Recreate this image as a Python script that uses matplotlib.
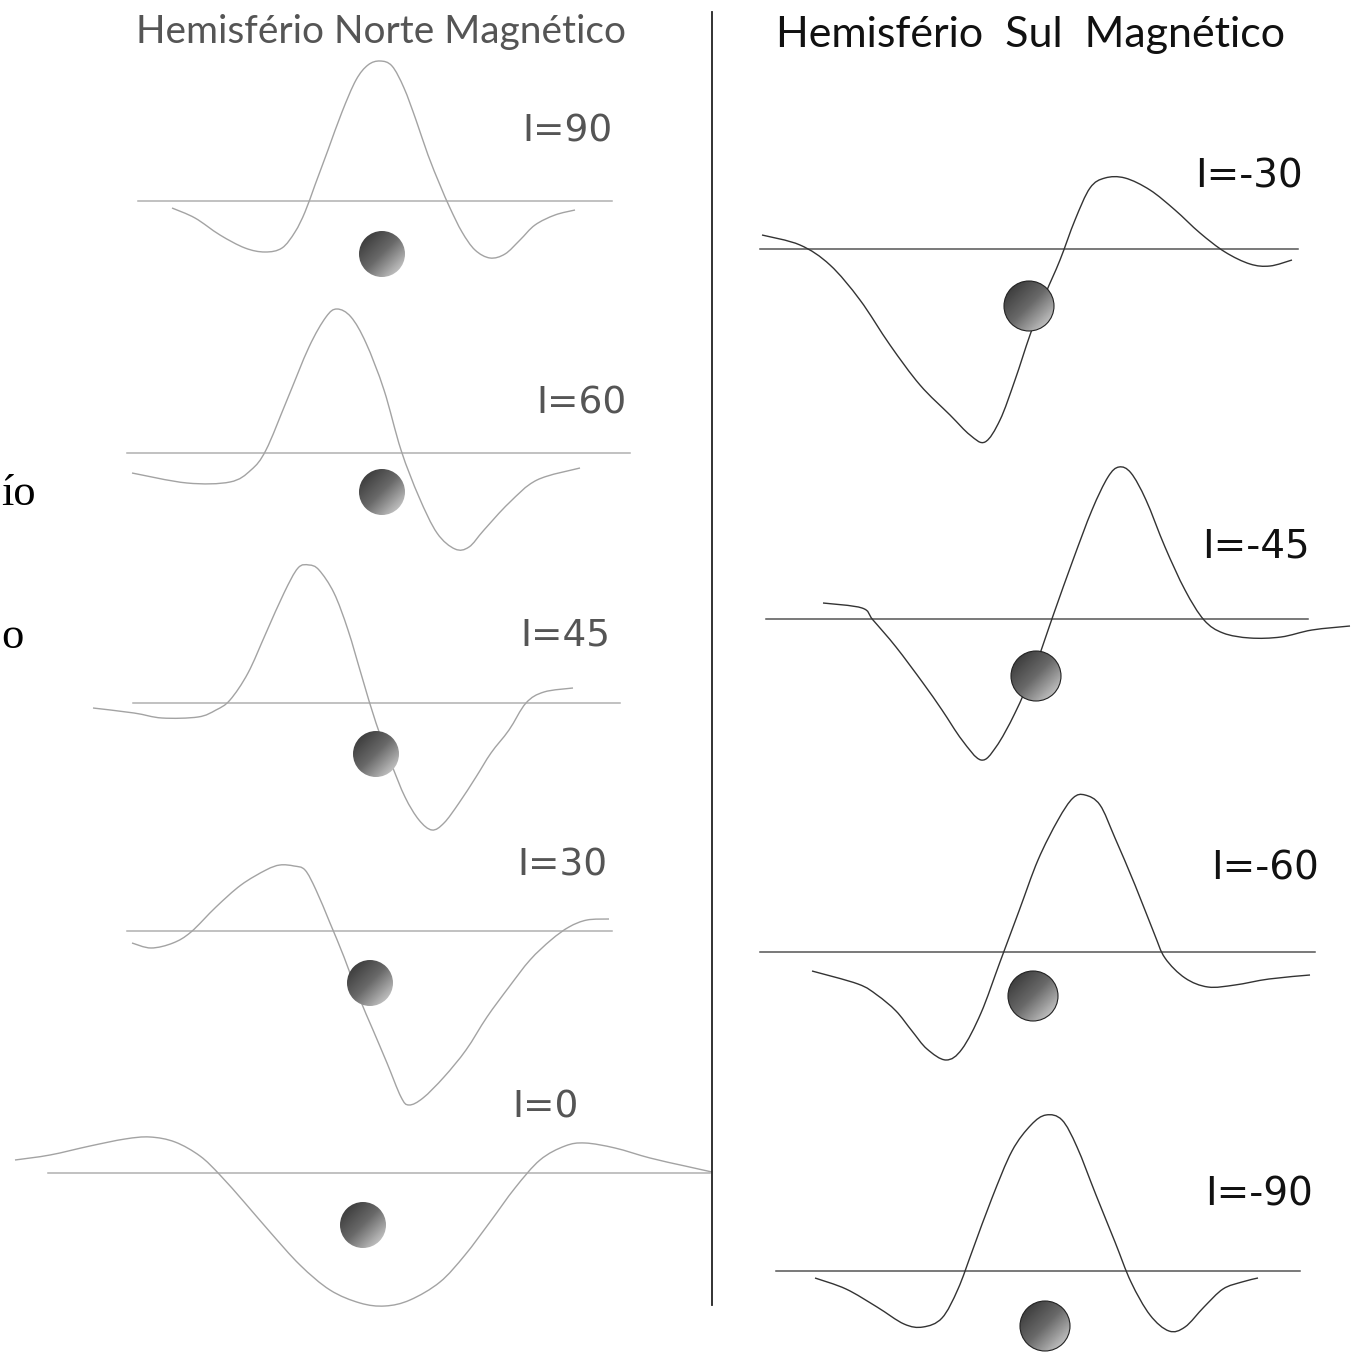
import matplotlib
matplotlib.use("Agg")
import matplotlib.pyplot as plt
import numpy as np
from matplotlib.patches import Circle, PathPatch
from matplotlib.path import Path
from matplotlib.colors import LinearSegmentedColormap

# Perfis de anomalia magnética (coordenadas em pixels do desenho)
# Hemisfério Norte
n90 = [(172, 208), (195, 218), (220, 235), (245, 248), (265, 252), (282, 248), (295, 232),
       (305, 212), (315, 185), (328, 150), (342, 112), (356, 80), (368, 65), (380, 61),
       (392, 66), (404, 88), (416, 120), (428, 155), (440, 185), (450, 208), (462, 232),
       (475, 250), (490, 258), (505, 254), (520, 240), (535, 225), (555, 215), (575, 210)]
n60 = [(132, 473), (187, 483), (230, 482), (251, 470), (266, 450), (287, 400), (309, 347),
       (326, 317), (337, 309), (351, 317), (366, 343), (384, 390), (401, 450), (419, 497),
       (437, 533), (455, 549), (469, 547), (484, 530), (509, 503), (537, 480), (580, 468)]
n45 = [(93, 708), (134, 713), (162, 718), (198, 717), (216, 710), (230, 700), (248, 673),
       (266, 633), (284, 593), (298, 568), (309, 565), (319, 570), (334, 593), (348, 630),
       (362, 677), (376, 723), (391, 763), (405, 797), (419, 820), (432, 830), (444, 823),
       (459, 803), (476, 777), (491, 753), (509, 730), (526, 703), (544, 692), (573, 688)]
n30 = [(132, 943), (151, 948), (173, 943), (191, 932), (216, 907), (241, 885), (266, 870),
       (280, 865), (294, 866), (305, 870), (316, 890), (330, 923), (344, 957), (359, 997),
       (373, 1030), (387, 1063), (401, 1097), (409, 1105), (423, 1098), (444, 1077),
       (466, 1050), (487, 1017), (509, 987), (530, 960), (551, 940), (569, 927), (587, 920),
       (609, 919)]
n0 = [(15, 1160), (50, 1155), (90, 1146), (125, 1139), (150, 1137), (175, 1142), (200, 1156),
      (220, 1175), (245, 1203), (270, 1232), (300, 1265), (330, 1290), (360, 1303), (385, 1306),
      (410, 1300), (440, 1282), (465, 1255), (490, 1222), (515, 1188), (540, 1160), (565, 1146),
      (585, 1143), (615, 1148), (650, 1158), (685, 1166), (712, 1172)]

# Hemisfério Sul
s30 = [(762, 235), (800, 245), (830, 265), (860, 300), (890, 345), (920, 385), (950, 415),
       (970, 435), (985, 442), (1000, 420), (1015, 380), (1030, 335), (1045, 295), (1060, 260),
       (1075, 220), (1090, 188), (1105, 178), (1125, 178), (1150, 190), (1175, 210),
       (1200, 233), (1225, 252), (1250, 264), (1270, 266), (1292, 260)]
s45 = [(823, 603), (862, 608), (873, 620), (896, 647), (923, 683), (942, 710), (962, 740),
       (981, 760), (996, 747), (1015, 713), (1035, 667), (1054, 613), (1073, 560), (1092, 510),
       (1108, 477), (1119, 467), (1131, 473), (1146, 500), (1165, 547), (1185, 590),
       (1204, 620), (1223, 633), (1250, 638), (1281, 637), (1312, 630), (1350, 626)]
s60 = [(812, 971), (858, 984), (877, 995), (896, 1011), (912, 1031), (927, 1049), (946, 1060),
       (962, 1049), (981, 1013), (1000, 962), (1019, 911), (1038, 860), (1058, 820),
       (1073, 798), (1085, 795), (1100, 805), (1115, 838), (1135, 885), (1154, 933),
       (1165, 958), (1185, 978), (1208, 987), (1235, 985), (1269, 979), (1310, 975)]
s90 = [(815, 1278), (846, 1289), (877, 1307), (904, 1324), (923, 1327), (942, 1318),
       (958, 1289), (973, 1249), (992, 1198), (1012, 1151), (1031, 1125), (1046, 1115),
       (1062, 1120), (1077, 1147), (1096, 1195), (1115, 1242), (1131, 1282), (1150, 1315),
       (1169, 1331), (1185, 1327), (1204, 1307), (1223, 1289), (1242, 1282), (1258, 1278)]

north_profiles = [n90, n60, n45, n30, n0]
south_profiles = [s30, s45, s60, s90]

# linhas de referência: (x inicial, x final, y)
north_base = [(138, 612, 201), (127, 630, 453), (133, 620, 703), (127, 612, 931), (48, 710, 1173)]
south_base = [(760, 1298, 249), (766, 1308, 619), (760, 1315, 952), (776, 1300, 1271)]

# corpos esféricos: (x, y, raio)
north_spheres = [(382, 254, 23), (382, 492, 23), (376, 754, 23), (370, 983, 23), (363, 1225, 23)]
south_spheres = [(1029, 306, 25), (1036, 676, 25), (1033, 996, 25), (1045, 1326, 25)]

north_labels = ["I=90", "I=60", "I=45", "I=30", "I=0"]
north_label_pos = [(522, 142), (536, 414), (520, 646), (517, 876), (512, 1118)]
south_labels = ["I=-30", "I=-45", "I=-60", "I=-90"]
south_label_pos = [(1195, 188), (1202, 557), (1211, 880), (1205, 1205)]

W = H = 1353
fig = plt.figure(figsize=(W / 100, H / 100), dpi=100)
ax = fig.add_axes([0, 0, 1, 1])
ax.set_xlim(0, W)
ax.set_ylim(H, 0)
ax.axis("off")

sphere_cmap = LinearSegmentedColormap.from_list("esfera", ["#2e2e2e", "#6a6a6a", "#dedede"])
grad = np.add.outer(np.linspace(0, 1, 64), np.linspace(0, 1, 64)) / 2


def draw_sphere(cx, cy, r, edge):
    im = ax.imshow(grad, cmap=sphere_cmap, extent=(cx - r, cx + r, cy + r, cy - r),
                   origin="upper", interpolation="bilinear", zorder=3)
    circ = Circle((cx, cy), r, transform=ax.transData, facecolor="none",
                  edgecolor=edge if edge else "none", lw=0.8, zorder=4)
    ax.add_patch(circ)
    im.set_clip_path(circ)


def draw_profile(pts, color):
    # curva suave (Catmull-Rom em Bézier cúbicas) passando pelos pontos
    p = np.asarray(pts, dtype=float)
    n = len(p)
    verts = [p[0]]
    codes = [Path.MOVETO]
    for i in range(n - 1):
        p0 = p[max(i - 1, 0)]
        p1, p2 = p[i], p[i + 1]
        p3 = p[min(i + 2, n - 1)]
        verts += [p1 + (p2 - p0) / 6, p2 - (p3 - p1) / 6, p2]
        codes += [Path.CURVE4] * 3
    ax.add_patch(PathPatch(Path(verts, codes), facecolor="none", edgecolor=color,
                           lw=1.0, zorder=2))


title_font = "Lato"
label_font = "DejaVu Sans"

# lado esquerdo (traço cinza)
for pts in north_profiles:
    draw_profile(pts, "#a3a3a3")
for x0, x1, y in north_base:
    ax.plot([x0, x1], [y, y], color="#b0b0b0", lw=1.1, zorder=1)
for cx, cy, r in north_spheres:
    draw_sphere(cx, cy, r, None)
for txt, (x, y) in zip(north_labels, north_label_pos):
    ax.text(x, y, txt, fontsize=27, family=label_font, color="#555555",
            ha="left", va="baseline")

# lado direito (traço preto)
for pts in south_profiles:
    draw_profile(pts, "#333333")
for x0, x1, y in south_base:
    ax.plot([x0, x1], [y, y], color="#555555", lw=1.1, zorder=1)
for cx, cy, r in south_spheres:
    draw_sphere(cx, cy, r, "#222222")
for txt, (x, y) in zip(south_labels, south_label_pos):
    ax.text(x, y, txt, fontsize=28, family=label_font, color="#111111",
            ha="left", va="baseline")

# divisória central
ax.plot([712, 712], [12, 1305], color="#222222", lw=1.3)

ax.text(381, 43, "Hemisfério Norte Magnético", fontsize=28, family=title_font,
        color="#555555", ha="center", va="baseline")
ax.text(1031, 47, "Hemisfério  Sul  Magnético", fontsize=31, family=title_font,
        color="#111111", ha="center", va="baseline")

# restos de texto na margem esquerda
ax.text(1, 505, "ío", fontsize=32, family="Liberation Serif", color="black",
        ha="left", va="baseline")
ax.text(1, 648, "o", fontsize=32, family="Liberation Serif", color="black",
        ha="left", va="baseline")

fig.savefig("out.png", dpi=100)
